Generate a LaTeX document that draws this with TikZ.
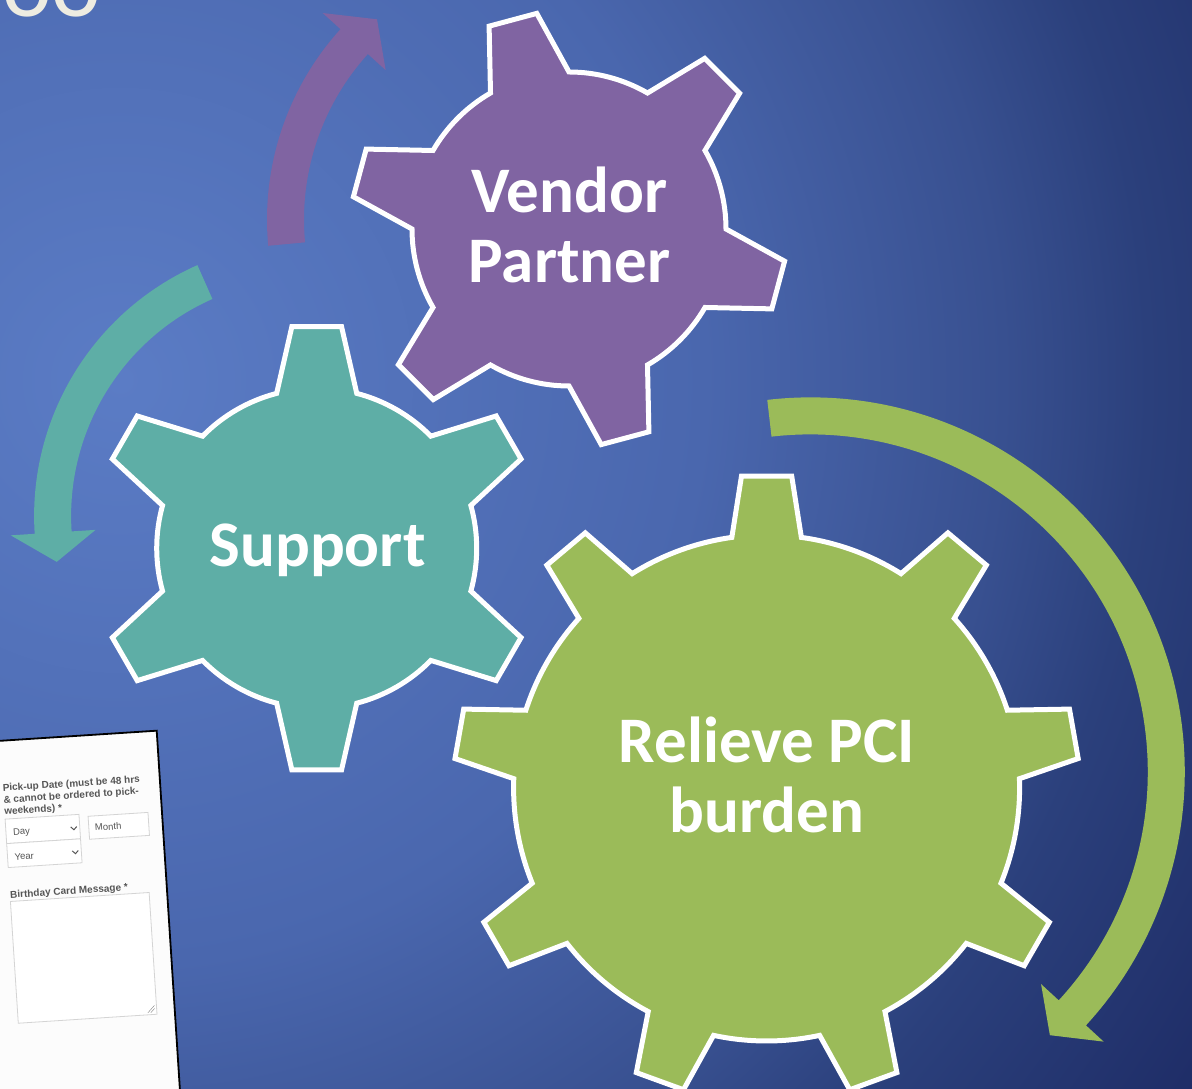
\documentclass[tikz,border=0pt]{standalone}
\usepackage{fontspec}
\setmainfont{Carlito}
\newfontfamily\formfont{Liberation Sans}
\definecolor{bgLight}{RGB}{91,124,197}
\definecolor{bgMidA}{RGB}{74,103,174}
\definecolor{bgMidB}{RGB}{56,80,144}
\definecolor{bgMidC}{RGB}{43,64,124}
\definecolor{bgDark}{RGB}{30,44,102}
\definecolor{vendorPurple}{RGB}{128,100,162}
\definecolor{supportTeal}{RGB}{94,174,166}
\definecolor{relieveGreen}{RGB}{155,187,89}
\definecolor{titleCream}{RGB}{238,236,225}
\definecolor{formGray}{RGB}{85,85,85}
\definecolor{formLine}{RGB}{212,212,212}
\pgfdeclareradialshading{bgglow}{\pgfpoint{0bp}{0bp}}{color(0bp)=(bgLight); color(11.25bp)=(bgMidA); color(17bp)=(bgMidB); color(19.75bp)=(bgMidC); color(25bp)=(bgDark); color(50bp)=(bgDark)}
\begin{document}
\begin{tikzpicture}[x=1pt, y=1pt,
        gear/.style={draw=white, line width=5, line join=miter},
        geartext/.style={text=white, font=\fontsize{65}{70}\selectfont\bfseries, align=center},
        formtext/.style={text=formGray, font=\formfont\bfseries\fontsize{10}{11.7}\selectfont, anchor=base west, inner sep=0, transform shape},
        fieldtext/.style={text=formGray, font=\formfont\fontsize{9.5}{11}\selectfont, anchor=base west, inner sep=0, transform shape},
        field/.style={draw=formLine, line width=0.8, fill=white}]
        % Slide background
        \useasboundingbox (0,0) rectangle (1192,1089);
        \begin{scope}
            \clip (0,0) rectangle (1192,1089);
            \shade[shading=bgglow] (120,709) circle (1300);
        \end{scope}
        % Bottom of the slide title
        \node[text=titleCream, font=\fontsize{94}{100}\selectfont, anchor=base west, inner sep=0] (title) at (2,1072) {oo};
        % Gear hubs
        \coordinate (vendorHub) at (569,860);
        \coordinate (supportHub) at (316.7,540.7);
        \coordinate (relieveHub) at (766.6,301);
        % Curved arrows
        \begin{scope}[shift={(550.5,869.4)}]
            \fill[vendorPurple] (185.3:283.5) arc[start angle=185.3, end angle=137.8, radius=283.5]
                -- (137.8:307.5) -- (130.9:265) -- (137.8:222.5) -- (137.8:246.5)
                arc[start angle=137.8, end angle=185.3, radius=246.5] -- cycle;
        \end{scope}
        \begin{scope}[shift={(308.6,572.9)}]
            \fill[supportTeal] (113.9:274.5) arc[start angle=113.9, end angle=183.7, radius=274.5]
                -- (183.7:298.5) -- (190.3:256) -- (183.7:213.5) -- (183.7:237.5)
                arc[start angle=183.7, end angle=113.9, radius=237.5] -- cycle;
        \end{scope}
        \begin{scope}[shift={(810.3,317.1)}]
            \fill[relieveGreen] (96.6:374.5) arc[start angle=96.6, end angle=-42.6, radius=374.5]
                -- (-42.6:398.5) -- (-47.7:356) -- (-42.6:313.5) -- (-42.6:337.5)
                arc[start angle=-42.6, end angle=96.6, radius=337.5] -- cycle;
        \end{scope}
        % Vendor Partner gear (6 teeth)
        \begin{scope}[shift={(vendorHub)}]
            \filldraw[gear, fill=vendorPurple] (90:157) \foreach \ang in {105,165,...,405} {
                -- ({\ang-15}:157) -- ({\ang-6.5}:218) -- ({\ang+6.5}:218) -- ({\ang+15}:157)
                arc[start angle={\ang+15}, end angle={\ang+45}, radius=157]} -- cycle;
        \end{scope}
        % Support gear (6 teeth)
        \begin{scope}[shift={(supportHub)}]
            \filldraw[gear, fill=supportTeal] (15.5:160) \foreach \ang in {30,90,...,330} {
                -- ({\ang-14.5}:160) -- ({\ang-6.4}:223) -- ({\ang+6.4}:223) -- ({\ang+14.5}:160)
                arc[start angle={\ang+14.5}, end angle={\ang+45.5}, radius=160]} -- cycle;
        \end{scope}
        % Relieve PCI burden gear (9 teeth)
        \begin{scope}[shift={(relieveHub)}]
            \filldraw[gear, fill=relieveGreen] (2.1:253) \foreach \ang in {10,50,...,330} {
                -- ({\ang-7.9}:253) -- ({\ang-4.6}:313) -- ({\ang+4.6}:313) -- ({\ang+7.9}:253)
                arc[start angle={\ang+7.9}, end angle={\ang+32.1}, radius=253]} -- cycle;
        \end{scope}
        % Gear labels
        \node[geartext] (vendor) at (569.5,864.5) {Vendor\\Partner};
        \node[geartext, anchor=base] (support) at (317.5,522.3) {Support};
        \node[geartext] (relieve) at (767,313.7) {Relieve PCI\\burden};
        % Screenshot of the order form
        \begin{scope}[shift={(156.7,358.3)}, rotate=3.7]
            \begin{scope}
                \clip (-240,0) rectangle (0,-420);
                \fill[white!98!gray] (-240,0) rectangle (0,-420);
                \node[formtext, anchor=north west, align=left] (pickup) at (-157.5,-43.2)
                    {Pick-up Date (must be 48 hrs\\\& cannot be ordered to pick-\\weekends) *};
                \draw[field] (-157,-78.5) rectangle (-83,-103);
                \draw[field] (-157,-103) rectangle (-83,-127);
                \draw[field] (-74,-81) rectangle (-14,-104);
                \node[fieldtext] (day) at (-150,-95) {Day};
                \node[fieldtext] (month) at (-68,-96) {Month};
                \node[fieldtext] (year) at (-150,-120) {Year};
                \draw[formGray, line width=1] (-92,-90.5) -- (-89,-93.5) -- (-86,-90.5);
                \draw[formGray, line width=1] (-92,-114.5) -- (-89,-117.5) -- (-86,-114.5);
                \node[formtext] (message) at (-157,-157.7) {Birthday Card Message *};
                \draw[field] (-157,-161) rectangle (-18,-283);
                \draw[gray] (-27,-281) -- (-20,-274);
                \draw[gray] (-24,-281) -- (-20,-277);
            \end{scope}
            \draw[black, line width=1.8] (-240,0) -- (0,0) -- (0,-420);
        \end{scope}
\end{tikzpicture}
\end{document}
